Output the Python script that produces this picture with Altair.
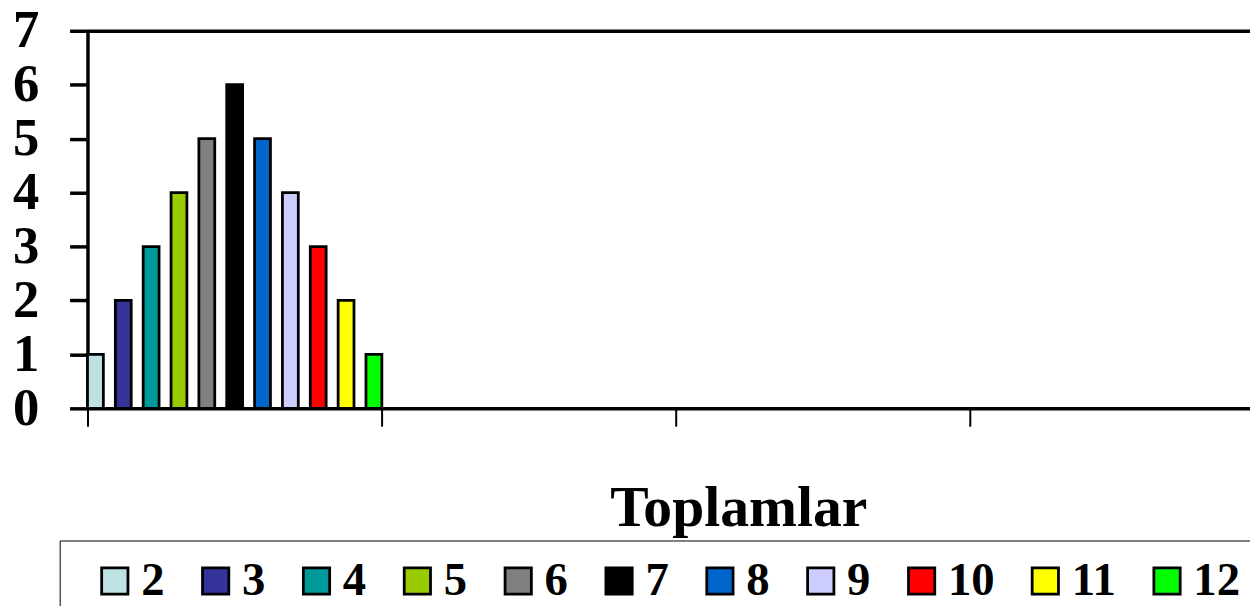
import altair as alt
import pandas as pd

# ---- data ----
groups = ["1", "2", "3", "4"]
sums = ["2", "3", "4", "5", "6", "7", "8", "9", "10", "11", "12"]
counts = [1, 2, 3, 4, 5, 6, 5, 4, 3, 2, 1]
colors = ["#BEE2E4", "#333399", "#009999", "#99CC00", "#808080", "#000000",
          "#0066CC", "#CCCCFF", "#FF0000", "#FFFF00", "#00FF00"]
y_ticks = [0, 1, 2, 3, 4, 5, 6, 7]
x_title = "Toplamlar"

df = pd.DataFrame({
    "Grup": [groups[0]] * len(sums),
    "Toplam": sums,
    "Adet": counts,
})

FONT = "Liberation Serif"

chart = alt.Chart(df).mark_bar(stroke="black", strokeWidth=2.8, opacity=1).encode(
    x=alt.X(
        "Grup:N",
        scale=alt.Scale(domain=groups, paddingInner=0, paddingOuter=0),
        axis=alt.Axis(
            title=x_title, labels=False, bandPosition=0,
            tickSize=18, tickWidth=2, tickColor="black",
            domainColor="black", domainWidth=3.5,
            titleFont=FONT, titleFontSize=58, titleFontWeight="bold", titleColor="black",
            titleX=655, titleY=118, titleBaseline="alphabetic", titleAlign="center",
        ),
    ),
    xOffset=alt.XOffset(
        "Toplam:N", sort=sums,
        scale=alt.Scale(domain=sums, paddingInner=0.43, paddingOuter=0),
    ),
    y=alt.Y(
        "Adet:Q",
        scale=alt.Scale(domain=[0, 7], nice=False),
        axis=alt.Axis(
            values=y_ticks, title=None, format="d",
            tickSize=18, tickWidth=3.5, tickColor="black",
            domainColor="black", domainWidth=3.5,
            labelFont=FONT, labelFontSize=53, labelFontWeight="bold", labelColor="black",
            labelPadding=31,
            grid=True, gridWidth=3.5,
            gridColor={"condition": {"test": "datum.value == 7", "value": "black"},
                       "value": "transparent"},
        ),
    ),
    color=alt.Color(
        "Toplam:N", sort=sums,
        scale=alt.Scale(domain=sums, range=colors),
        legend=alt.Legend(
            orient="none", legendX=-28, legendY=513,
            direction="horizontal", columns=11,
            title="\u00a0", titleOrient="left", titleFontSize=1, titlePadding=15,
            symbolType="square", symbolSize=700,
            symbolStrokeColor="black", symbolStrokeWidth=2.8, symbolOpacity=1,
            labelFont=FONT, labelFontSize=47, labelFontWeight="bold", labelColor="black",
            labelOffset=3, columnPadding=27.5, padding=17,
            strokeColor="black", fillColor="white",
        ),
    ),
).properties(
    width=1185,
    height=380,
    autosize=alt.AutoSizeParams(type="none"),
    padding={"left": 80, "top": 21, "right": -15, "bottom": 197},
).configure_view(
    strokeWidth=0
).configure_legend(
    strokeWidth=3
).configure(
    font=FONT
)

chart.save("out.html", embed_options={"renderer": "svg", "actions": False})
